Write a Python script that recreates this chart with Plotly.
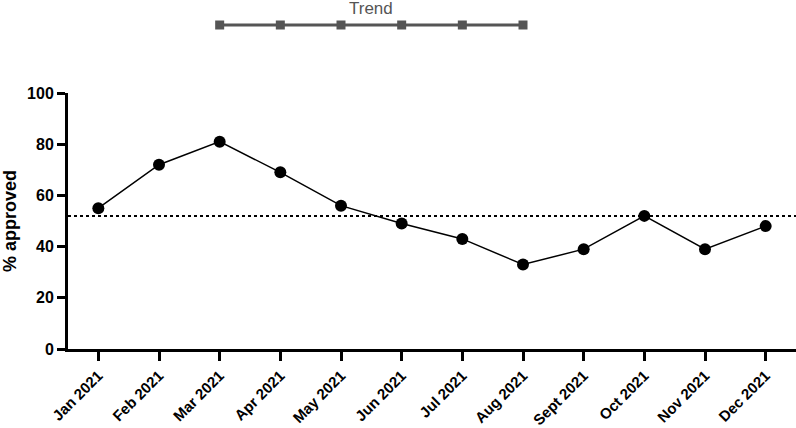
import plotly.graph_objects as go

months = ["Jan 2021", "Feb 2021", "Mar 2021", "Apr 2021", "May 2021", "Jun 2021",
          "Jul 2021", "Aug 2021", "Sept 2021", "Oct 2021", "Nov 2021", "Dec 2021"]
approved = [55, 72, 81, 69, 56, 49, 43, 33, 39, 52, 39, 48]
reference_level = 52
trend_months = ["Mar 2021", "Apr 2021", "May 2021", "Jun 2021", "Jul 2021", "Aug 2021"]
trend_level = [1, 1, 1, 1, 1, 1]
y_ticks = [0, 20, 40, 60, 80, 100]

W, H = 796, 428
plot_top, plot_bottom = 93, 349
y_dom = [(H - plot_bottom) / H, (H - plot_top) / H]
trend_center = (H - 25) / H
y2_dom = [2 * trend_center - 1, 1.0]

FONT = "Liberation Sans"

fig = go.Figure()

fig.add_trace(go.Scatter(
    x=months, y=approved, mode="lines+markers",
    line=dict(color="black", width=1.5),
    marker=dict(color="black", size=12, symbol="circle"),
    showlegend=False))

fig.add_trace(go.Scatter(
    x=trend_months, y=trend_level, mode="lines+markers", yaxis="y2",
    line=dict(color="#555555", width=3),
    marker=dict(color="#555555", size=9, symbol="square"),
    showlegend=False))

fig.add_annotation(x=4.5, xref="x", y=(H - 8) / H, yref="paper", yanchor="middle",
                   xanchor="center", text="Trend", showarrow=False,
                   font=dict(family=FONT, size=17, color="#555555"))

fig.add_shape(type="line", xref="paper", x0=0, x1=1, yref="y",
              y0=reference_level, y1=reference_level,
              line=dict(color="black", width=2, dash="dot"))

fig.update_layout(
    width=W, height=H,
    margin=dict(l=68, r=0, t=0, b=0, autoexpand=False),
    plot_bgcolor="white", paper_bgcolor="white",
    font=dict(family=FONT, color="black"),
    xaxis=dict(type="category", categoryorder="array", categoryarray=months,
               range=[-0.5, 11.5], showgrid=False, zeroline=False,
               showline=True, linecolor="black", linewidth=3,
               ticks="outside", ticklen=9, tickwidth=3, tickcolor="black",
               tickangle=-45,
               tickfont=dict(family=FONT, size=15, color="black", weight="bold"),
               anchor="y", automargin=False),
    yaxis=dict(domain=y_dom, range=[0, 100], tickvals=y_ticks, showgrid=False, zeroline=False,
               showline=True, linecolor="black", linewidth=3,
               ticks="outside", ticklen=8, tickwidth=3, tickcolor="black",
               tickfont=dict(family=FONT, size=16, color="black", weight="bold"),
               title=dict(text="% approved", standoff=8,
                          font=dict(family=FONT, size=18, color="black", weight="bold")),
               automargin=False),
    yaxis2=dict(domain=y2_dom, range=[0, 2], visible=False, anchor="x", fixedrange=True),
)

fig.write_html("out.html", config={"displayModeBar": False},
               post_script="document.body.style.margin='0';")
